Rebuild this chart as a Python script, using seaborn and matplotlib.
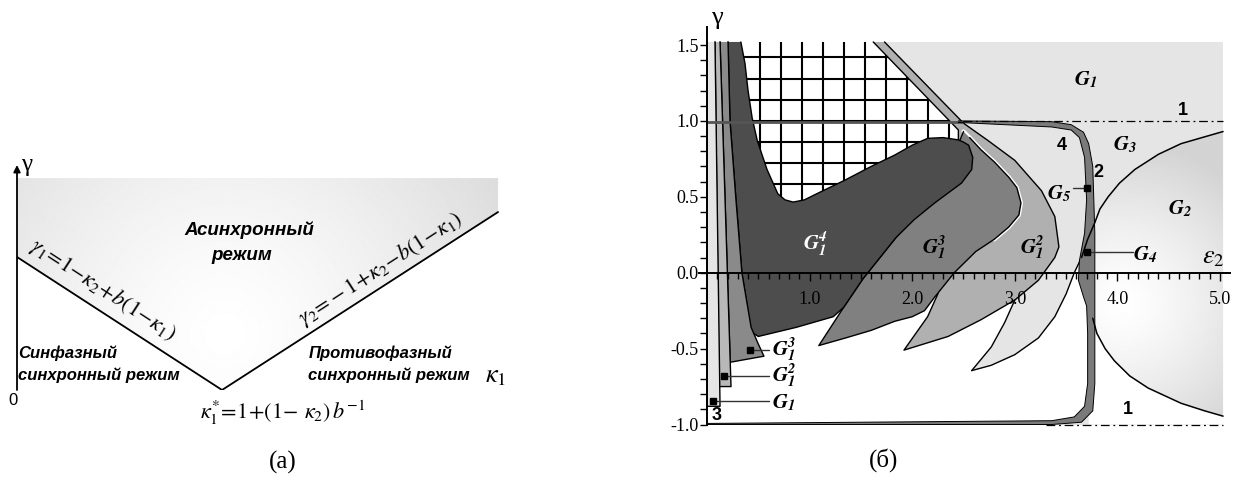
import numpy as np
import matplotlib
matplotlib.use('Agg')
import matplotlib.pyplot as plt
import seaborn as sns
import pandas as pd
from matplotlib.patches import Polygon
from matplotlib.ticker import FixedLocator, FixedFormatter, NullFormatter

sns.set_theme(style='white')
plt.rcParams['font.family'] = ['Liberation Serif', 'DejaVu Serif']
plt.rcParams['mathtext.fontset'] = 'stix'
plt.rcParams['text.color'] = 'black'
plt.rcParams['xtick.color'] = 'black'
plt.rcParams['ytick.color'] = 'black'

# ---------------- panel (a) data (schematic units) ----------------
kappa_star = 0.4245
a_left_x = [0.0, kappa_star]
a_left_y = [0.591, 0.0]
a_right_x = [kappa_star, 0.996]
a_right_y = [0.0, 0.791]
a_top = 0.942

# ---------------- panel (b) data ----------------
y_ticks = [-1.0, -0.5, 0.0, 0.5, 1.0, 1.5]
y_tick_labels = ['-1.0', '-0.5', '0.0', '0.5', '1.0', '1.5']
x_ticks = [1.0, 2.0, 3.0, 4.0, 5.0]
x_tick_labels = ['1.0', '2.0', '3.0', '4.0', '5.0']
x_max, y_top = 5.03, 1.52

# G2 boundary curves
g2_up_x = [5.03, 4.85, 4.62, 4.40, 4.17, 4.02, 3.91, 3.83, 3.78, 3.71, 3.65]
g2_up_y = [0.93, 0.895, 0.85, 0.78, 0.68, 0.59, 0.50, 0.42, 0.33, 0.22, 0.10]
g2_lo_x = [3.76, 3.80, 3.88, 3.97, 4.12, 4.30, 4.62, 4.85, 5.03]
g2_lo_y = [-0.30, -0.40, -0.50, -0.58, -0.68, -0.76, -0.86, -0.91, -0.945]
# light lobe of G1
lobe_lo_x = [3.65, 3.58, 3.50, 3.39, 3.23, 3.00, 2.77, 2.58]
lobe_lo_y = [0.10, 0.00, -0.14, -0.29, -0.43, -0.54, -0.61, -0.645]
lobe_up_x = [2.58, 2.77, 2.90, 3.00]
lobe_up_y = [-0.645, -0.49, -0.33, -0.18]
# band 2 (outer, then inner edge reversed)
band_out_x = [2.45, 3.36, 3.55, 3.67, 3.72, 3.76, 3.78, 3.78, 3.78, 3.76, 3.65, 3.36, 0.0]
band_out_y = [1.0, 0.995, 0.975, 0.925, 0.85, 0.70, 0.26, -0.40, -0.73, -0.91, -0.985, -1.0, -1.0]
band_in_x = [0.0, 3.36, 3.58, 3.68, 3.71, 3.71, 3.70, 3.67, 3.62, 3.63, 3.68, 3.70, 3.68, 3.63, 3.55, 3.36, 2.45]
band_in_y = [-0.993, -0.975, -0.95, -0.88, -0.73, -0.40, -0.22, -0.16, -0.05, 0.08, 0.26, 0.48, 0.76, 0.89, 0.94, 0.96, 0.99]
# white interior
white_x = [0.0, 3.36, 3.58, 3.68, 3.71, 3.71, 3.70, 3.67, 3.64, 3.65, 3.58, 3.50, 3.39, 3.23,
           3.00, 2.77, 2.58, 2.77, 2.90, 3.00, 2.70, 2.45, 1.62, 0.0]
white_y = [-1.0, -0.99, -0.95, -0.88, -0.73, -0.40, -0.22, -0.16, -0.05, 0.10, 0.0, -0.14, -0.29, -0.43,
           -0.54, -0.61, -0.645, -0.49, -0.33, -0.18, 0.30, 0.94, 1.52, 1.52]
# hatched zone outline
hatch_x = [0.30, 1.67, 2.50, 2.50, 0.40]
hatch_y = [1.52, 1.52, 0.95, 0.40, 0.40]
# G1^2 arm
g12_x = [1.62, 1.73, 2.50, 2.74, 3.00, 3.26, 3.39, 3.43, 3.39, 3.23, 3.00, 2.67, 2.35, 1.92, 2.15, 2.25, 2.45, 2.45]
g12_y = [1.52, 1.52, 0.985, 0.87, 0.74, 0.54, 0.37, 0.17, 0.10, -0.05, -0.18, -0.31, -0.42, -0.51, -0.29, -0.14, 0.30, 0.94]
# G1^3 arm
g13_x = [2.50, 2.56, 2.67, 2.80, 2.94, 3.02, 3.06, 3.04, 2.94, 2.80, 2.62, 2.41, 2.22, 2.12, 2.00, 1.83,
         1.60, 1.35, 1.09, 1.33, 1.52, 1.84, 2.30]
g13_y = [0.93, 0.89, 0.81, 0.73, 0.63, 0.56, 0.46, 0.38, 0.30, 0.22, 0.14, 0.0, -0.16, -0.25, -0.29, -0.32,
         -0.38, -0.43, -0.48, -0.23, -0.04, 0.23, 0.60]
# G1^4 region
g14_x = [0.205, 0.33, 0.37, 0.40, 0.44, 0.49, 0.585, 0.69, 0.76, 0.84, 0.95, 1.10, 1.345, 1.60, 1.83, 2.00,
         2.15, 2.30, 2.45, 2.50, 2.55, 2.59, 2.58, 2.48, 2.22, 2.02, 1.84, 1.52, 1.33, 1.23, 0.87, 0.50,
         0.43, 0.34, 0.28, 0.224]
g14_y = [1.52, 1.52, 1.38, 1.20, 1.02, 0.87, 0.68, 0.52, 0.48, 0.465, 0.48, 0.53, 0.61, 0.70, 0.775, 0.84,
         0.885, 0.89, 0.875, 0.86, 0.84, 0.76, 0.68, 0.59, 0.46, 0.35, 0.23, -0.04, -0.23, -0.29, -0.36, -0.42,
         -0.39, 0.0, 0.5, 1.0]
# left strips
s1_x = [0.0, 0.078, 0.127, 0.0]
s1_y = [1.52, 1.52, -0.88, -0.88]
s2_x = [0.078, 0.127, 0.234, 0.117]
s2_y = [1.52, 1.52, -0.75, -0.75]
s3_x = [0.127, 0.205, 0.224, 0.28, 0.34, 0.43, 0.50, 0.555, 0.226]
s3_y = [1.52, 1.52, 1.0, 0.5, 0.0, -0.36, -0.47, -0.55, -0.59]

W, H = 1242, 488
fig = plt.figure(figsize=(W / 100, H / 100), dpi=100)


def radial(ax, xs, ys, cx, cy, sx, sy, R, lo, extent, z):
    x0, x1, y0, y1 = extent
    X, Y = np.meshgrid(np.linspace(x0, x1, 500), np.linspace(y0, y1, 400))
    r = np.hypot((X - cx) * sx, (Y - cy) * sy) / R
    val = 1 - (1 - lo) * np.clip(r, 0, 1) ** 1.3
    im = ax.imshow(val, extent=extent, origin='lower', cmap='gray', vmin=0, vmax=1,
                   aspect='auto', zorder=z, interpolation='bilinear')
    p = Polygon(np.column_stack([xs, ys]), closed=True, transform=ax.transData,
                facecolor='none', edgecolor='none')
    ax.add_patch(p)
    im.set_clip_path(p)


# ================= panel (a) =================
axa = fig.add_axes([17 / W, (488 - 390) / H, 483 / W, 225 / H])
poly_a_x = [a_left_x[0], a_left_x[1], a_right_x[1], a_right_x[1], 0.0]
poly_a_y = [a_left_y[0], a_left_y[1], a_right_y[1], a_top, a_top]
radial(axa, poly_a_x, poly_a_y, 0.43, 0.25, 483, 225, 320, 0.86, (0, 1, 0, 1), 1)
sns.lineplot(x=a_left_x, y=a_left_y, ax=axa, color='black', lw=1.3, sort=False, estimator=None, zorder=3)
sns.lineplot(x=a_right_x, y=a_right_y, ax=axa, color='black', lw=1.3, sort=False, estimator=None, zorder=3)
arrow = dict(arrowstyle='-|>', lw=1.3, color='black', mutation_scale=10, shrinkA=0, shrinkB=0)
axa.annotate('', xy=(1.005, 0), xytext=(0, 0), arrowprops=arrow, zorder=4)
axa.annotate('', xy=(0, 1.0), xytext=(0, 0), arrowprops=arrow, zorder=4)
axa.set_xlim(0, 1)
axa.set_ylim(0, 1)
axa.axis('off')

sans_big = dict(family='Liberation Sans', weight='bold', style='italic', fontsize=13.5)
sans_bi = dict(family='Liberation Sans', weight='bold', style='italic', fontsize=12)
axa.text(0.480, 0.71, 'Асинхронный', ha='center', va='center', **sans_big)
axa.text(0.465, 0.60, 'режим', ha='center', va='center', **sans_big)
axa.text(0.002, 0.165, 'Синфазный', ha='left', va='center', **sans_bi)
axa.text(0.002, 0.067, 'синхронный режим', ha='left', va='center', **sans_bi)
axa.text(0.603, 0.165, 'Противофазный', ha='left', va='center', **sans_bi)
axa.text(0.603, 0.067, 'синхронный режим', ha='left', va='center', **sans_bi)
axa.text(-0.008, -0.045, '0', ha='center', va='center', family='Liberation Sans', fontsize=12)
axa.text(0.02, 1.0, 'γ', ha='center', va='center', fontsize=18)
axa.text(0.99, 0.058, r'$\kappa_1$', ha='center', va='center', fontsize=19)
axa.text(0.55, -0.10, r'$\kappa_1^{*}\!=\!1\!+\!(1\!-\,\kappa_2)\,b^{-1}$', ha='center', va='center', fontsize=16)
axa.text(0.178, 0.448, r'$\gamma_1\!=\!1\!-\!\kappa_2\!+\!b(1\!-\!\kappa_1)$', ha='center', va='center',
         fontsize=16, rotation=-33, rotation_mode='anchor')
axa.text(0.752, 0.540, r'$\gamma_2\!=\!-1\!+\!\kappa_2\!-\!b(1\!-\!\kappa_1)$', ha='center', va='center',
         fontsize=16, rotation=32.8, rotation_mode='anchor')

# ================= panel (b) =================
x0px, sxp = 707.0, 102.6
y0px, syp = 272.7, 151.8
xlim = (-0.1, 5.15)
ylim = (-1.05, 1.7)
left = x0px + xlim[0] * sxp
right = x0px + xlim[1] * sxp
top = y0px - ylim[1] * syp
bottom = y0px - ylim[0] * syp
axb = fig.add_axes([left / W, (H - bottom) / H, (right - left) / W, (bottom - top) / H])

LIGHT = '#e5e5e5'
axb.fill([0, x_max, x_max, 0], [-1.0, -1.0, y_top, y_top], color=LIGHT, lw=0, zorder=1)
# white below G2 on the right
wr_x = g2_lo_x + [x_max, 3.72, 3.72]
wr_y = g2_lo_y + [-1.0, -1.0, -0.30]
axb.fill(wr_x, wr_y, color='white', lw=0, zorder=1.5)
# G2 gradient
g2_x = g2_up_x + [3.62, 3.70] + g2_lo_x
g2_y = g2_up_y + [0.0, -0.2] + g2_lo_y
radial(axb, g2_x, g2_y, 4.05, -0.2, sxp, syp, 160, 0.83, (3.5, 5.1, -1.0, 1.0), 2)
# white interior
axb.fill(white_x, white_y, color='white', lw=0, zorder=3)
# hatching grid clipped to hatch zone
hp = Polygon(np.column_stack([hatch_x, hatch_y]), closed=True, transform=axb.transData,
             facecolor='none', edgecolor='none')
axb.add_patch(hp)
for xv in np.arange(0.517, 2.6, 0.2047):
    ln, = axb.plot([xv, xv], [0.3, y_top], color='black', lw=1.5, zorder=4, solid_capstyle='butt')
    ln.set_clip_path(hp)
for yv in np.arange(1.0 - 4 * 0.1395, y_top, 0.1395):
    ln, = axb.plot([0.2, 2.6], [yv, yv], color='black', lw=1.5, zorder=4, solid_capstyle='butt')
    ln.set_clip_path(hp)


def region(xs, ys, color, z, lw=1.0, edge=True):
    axb.fill(xs, ys, color=color, lw=0, zorder=z)
    if edge:
        ex = list(xs[1:]) + [xs[0]]
        ey = list(ys[1:]) + [ys[0]]
        axb.plot(ex, ey, color='black', lw=lw, zorder=z + 0.1)


region(g12_x, g12_y, '#b0b0b0', 5)
axb.plot(g13_x[:10], g13_y[:10], color='white', lw=3.0, zorder=5.5)
region(g13_x, g13_y, '#808080', 6)
region(g14_x, g14_y, '#4d4d4d', 7)
region(s3_x, s3_y, '#8a8a8a', 8)
region(s2_x, s2_y, '#b8b8b8', 8.5)
region(s1_x, s1_y, LIGHT, 9)
# lobe edges and G2 curves
sns.lineplot(x=lobe_lo_x, y=lobe_lo_y, ax=axb, color='black', lw=1.0, sort=False, estimator=None, zorder=10)
sns.lineplot(x=lobe_up_x, y=lobe_up_y, ax=axb, color='black', lw=1.0, sort=False, estimator=None, zorder=10)
sns.lineplot(x=g2_up_x, y=g2_up_y, ax=axb, color='black', lw=1.1, sort=False, estimator=None, zorder=12)
sns.lineplot(x=g2_lo_x, y=g2_lo_y, ax=axb, color='black', lw=1.1, sort=False, estimator=None, zorder=12)
# band 2 / curve 4
band_x = band_out_x + band_in_x
band_y = band_out_y + band_in_y
axb.fill(band_x, band_y, color='#7a7a7a', lw=0, zorder=11)
axb.plot(band_out_x, band_out_y, color='black', lw=0.7, zorder=11.1)
axb.plot(band_in_x, band_in_y, color='black', lw=0.7, zorder=11.1)
axb.plot([0.0, 2.5], [0.995, 0.995], color='#555555', lw=2.0, zorder=11, solid_capstyle='butt')
# dash-dot lines "1"
axb.plot([2.5, x_max], [1.0, 1.0], color='black', lw=0.9, zorder=12, dashes=(7, 3, 1.5, 3))
axb.plot([3.3, x_max], [-1.0, -1.0], color='black', lw=0.9, zorder=12, dashes=(7, 3, 1.5, 3))

# leaders and markers
lead = dict(color='#333333', lw=1.0, zorder=13)
axb.plot([0.42, 0.60], [-0.51, -0.51], **lead)
axb.plot([0.165, 0.60], [-0.68, -0.68], **lead)
axb.plot([0.06, 0.60], [-0.845, -0.845], **lead)
axb.plot([3.57, 3.70], [0.56, 0.56], **lead)
axb.plot([3.70, 4.15], [0.135, 0.135], **lead)
for mx, my in [(0.42, -0.51), (0.165, -0.68), (0.06, -0.845), (3.70, 0.56), (3.70, 0.135)]:
    axb.plot([mx], [my], marker='s', ms=4, color='black', zorder=14)


def G(sub, sup=None):
    s = r'$\mathbfit{G}_{\mathbfit{' + sub + '}}'
    if sup:
        s += r'^{\mathbfit{' + sup + '}}'
    return s + '$'


gk = dict(ha='center', va='center', fontsize=15, zorder=15)
axb.text(1.06, 0.19, G('1', '4'), color='white', **gk)
axb.text(2.21, 0.16, G('1', '3'), **gk)
axb.text(3.17, 0.16, G('1', '2'), **gk)
axb.text(3.69, 1.27, G('1'), **gk)
axb.text(3.43, 0.52, G('5'), **gk)
axb.text(4.07, 0.84, G('3'), **gk)
axb.text(4.61, 0.42, G('2'), **gk)
axb.text(4.27, 0.12, G('4'), **gk)
gl = dict(ha='left', va='center', fontsize=15, zorder=15)
axb.text(0.63, -0.51, G('1', '3'), **gl)
axb.text(0.63, -0.68, G('1', '2'), **gl)
axb.text(0.63, -0.855, G('1'), **gl)
nk = dict(ha='center', va='center', family='Liberation Sans', weight='bold', fontsize=13, zorder=15)
axb.text(3.46, 0.84, '4', **nk)
axb.text(3.81, 0.66, '2', **nk)
axb.text(4.64, 1.07, '1', **nk)
axb.text(4.10, -0.90, '1', **nk)
axb.text(0.09, -0.94, '3', **nk)
axb.text(4.93, 0.10, r'$\varepsilon_2$', ha='center', va='center', fontsize=19, zorder=15)
axb.text(0.10, 1.68, 'γ', ha='center', va='center', fontsize=19, zorder=15)

# axes
axb.set_xlim(*xlim)
axb.set_ylim(*ylim)
for s in ['top', 'right']:
    axb.spines[s].set_visible(False)
axb.spines['left'].set_position(('data', 0))
axb.spines['bottom'].set_position(('data', 0))
axb.spines['left'].set_bounds(-1.0, 1.62)
axb.spines['bottom'].set_bounds(-0.08, 5.1)
for s in ['left', 'bottom']:
    axb.spines[s].set_color('black')
    axb.spines[s].set_linewidth(1.4)
    axb.spines[s].set_zorder(16)
axb.yaxis.set_major_locator(FixedLocator(y_ticks))
axb.yaxis.set_major_formatter(FixedFormatter(y_tick_labels))
axb.yaxis.set_minor_locator(FixedLocator(np.round(np.arange(-1.0, 1.51, 0.1), 2)))
axb.yaxis.set_minor_formatter(NullFormatter())
axb.xaxis.set_major_locator(FixedLocator(x_ticks))
axb.xaxis.set_major_formatter(FixedFormatter(x_tick_labels))
axb.xaxis.set_minor_locator(FixedLocator(np.round(np.arange(0.1, 5.05, 0.1), 2)))
axb.xaxis.set_minor_formatter(NullFormatter())
axb.tick_params(axis='y', which='both', direction='out', length=5, width=1.0, color='black',
                left=True, labelsize=13, pad=1, labelcolor='black')
axb.tick_params(axis='x', which='major', direction='out', length=6, width=1.0, color='black',
                bottom=True, labelsize=13, pad=7, labelcolor='black')
axb.tick_params(axis='x', which='minor', direction='out', length=4, width=1.0, color='black', bottom=True)
axb.xaxis.set_zorder(20)
axb.yaxis.set_zorder(20)
axb.grid(False)
axb.set_facecolor('none')

fig.text(283 / W, 1 - 462 / H, '(a)', ha='center', va='center', fontsize=18, color='black')
fig.text(884 / W, 1 - 460 / H, '(б)', ha='center', va='center', fontsize=18, color='black')

fig.savefig('out.png', dpi=100, facecolor='white')
